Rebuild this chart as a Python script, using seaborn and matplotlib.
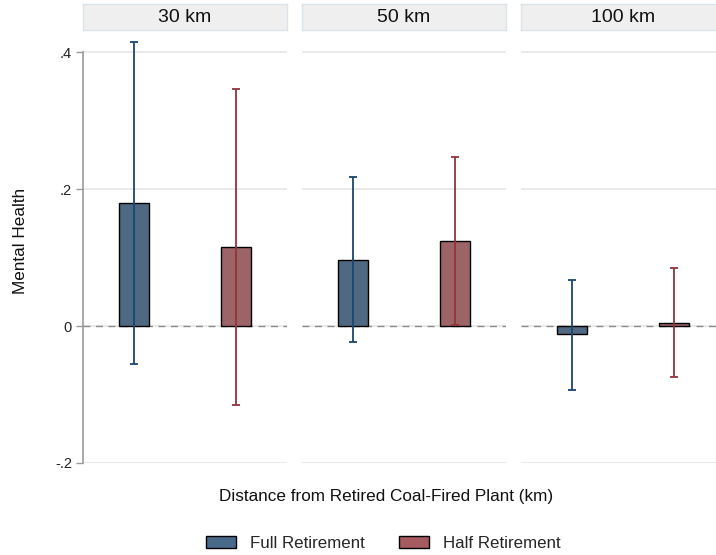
import pandas
import seaborn
import matplotlib
matplotlib.use("Agg")
import matplotlib.pyplot as plt
from matplotlib.patches import Patch

# data
distances = ["30 km", "50 km", "100 km"]
retirement = ["Full Retirement", "Half Retirement"]
coef_full = [0.180, 0.097, -0.012]
coef_half = [0.115, 0.124, 0.004]
lower_full = [-0.055, -0.023, -0.093]
upper_full = [0.415, 0.218, 0.067]
lower_half = [-0.115, 0.002, -0.074]
upper_half = [0.346, 0.247, 0.085]

fill_colors = {"Full Retirement": "#48698a", "Half Retirement": "#a65b60"}
line_colors = {"Full Retirement": "#1a476f", "Half Retirement": "#90353b"}

rows = []
for i, d in enumerate(distances):
    rows.append((d, retirement[0], coef_full[i], lower_full[i], upper_full[i]))
    rows.append((d, retirement[1], coef_half[i], lower_half[i], upper_half[i]))
df = pandas.DataFrame(rows, columns=["distance", "retirement", "coef", "lo", "hi"])

seaborn.set_style("white")
plt.rcParams["font.family"] = ["Liberation Sans", "DejaVu Sans"]

W, H = 716, 555
fig = plt.figure(figsize=(W / 100, H / 100), dpi=100)

panel_lefts = [83, 302, 521]
panel_w = 204
ax_bottom, ax_top = 463, 35
axs = []
for k, d in enumerate(distances):
    left = panel_lefts[k]
    ax = fig.add_axes([left / W, (H - ax_bottom) / H, panel_w / W, (ax_bottom - ax_top) / H])
    sub = df[df["distance"] == d]

    seaborn.barplot(
        data=sub, x="retirement", y="coef", hue="retirement", order=retirement,
        hue_order=retirement, palette=fill_colors, width=0.29, edgecolor="black",
        linewidth=1.0, legend=False, ax=ax, zorder=3,
    )
    for j, r in enumerate(retirement):
        row = sub[sub["retirement"] == r].iloc[0]
        ax.errorbar(
            [j], [row["coef"]],
            yerr=[[row["coef"] - row["lo"]], [row["hi"] - row["coef"]]],
            fmt="none", ecolor=line_colors[r], elinewidth=1.3, capsize=2.9,
            capthick=1.3, zorder=4,
        )

    ax.axhline(0, color="#8a8a8a", linestyle=(0, (5, 4)), linewidth=1.0, zorder=2)
    ax.set_xlim(-0.5, 1.5)
    ax.set_ylim(-0.2, 0.425)
    ax.set_yticks([-0.2, 0.0, 0.2, 0.4])
    ax.yaxis.grid(True, color="#e6e6e6", linewidth=1.2, zorder=0)
    ax.set_axisbelow(True)
    ax.set_xticks([])
    ax.set_xlabel("")
    ax.set_ylabel("")
    for s in ["top", "right", "bottom"]:
        ax.spines[s].set_visible(False)
    if k == 0:
        ax.spines["left"].set_color("#9a9a9a")
        ax.spines["left"].set_linewidth(1.2)
        ax.spines["left"].set_bounds(-0.2, 0.4)
        ax.set_yticklabels(["-.2", "0", ".2", ".4"])
        ax.tick_params(axis="y", left=True, length=5, width=1.0, color="#9a9a9a",
                       labelsize=10.5, labelcolor="#222222", pad=3)
    else:
        ax.spines["left"].set_visible(False)
        ax.tick_params(axis="y", left=False, labelleft=False)

    # strip header
    sax = fig.add_axes([left / W, (H - 30) / H, panel_w / W, 26 / H])
    sax.set_facecolor("#efefef")
    for s in sax.spines.values():
        s.set_color("#dbe4e9")
        s.set_linewidth(1.0)
    sax.set_xticks([])
    sax.set_yticks([])
    sax.text(0.5, 0.5, d, ha="center", va="center", fontsize=14, color="#111111",
             transform=sax.transAxes)
    axs.append(ax)

fig.text(21 / W, 1 - 241 / H, "Mental Health", rotation=90, ha="center", va="center",
         fontsize=12.3, color="#111111")
fig.text(386 / W, 1 - 497 / H, "Distance from Retired Coal-Fired Plant (km)",
         ha="center", va="center", fontsize=12.3, color="#111111")

handles = [Patch(facecolor=fill_colors[r], edgecolor="black", linewidth=1.0) for r in retirement]
fig.legend(
    handles, retirement, loc="center", bbox_to_anchor=(383 / W, 1 - 543 / H), ncol=2,
    frameon=False, fontsize=12.2, handlelength=1.8, handleheight=0.72,
    handletextpad=0.8, columnspacing=2.0,
)

fig.savefig("out.png", dpi=100)
